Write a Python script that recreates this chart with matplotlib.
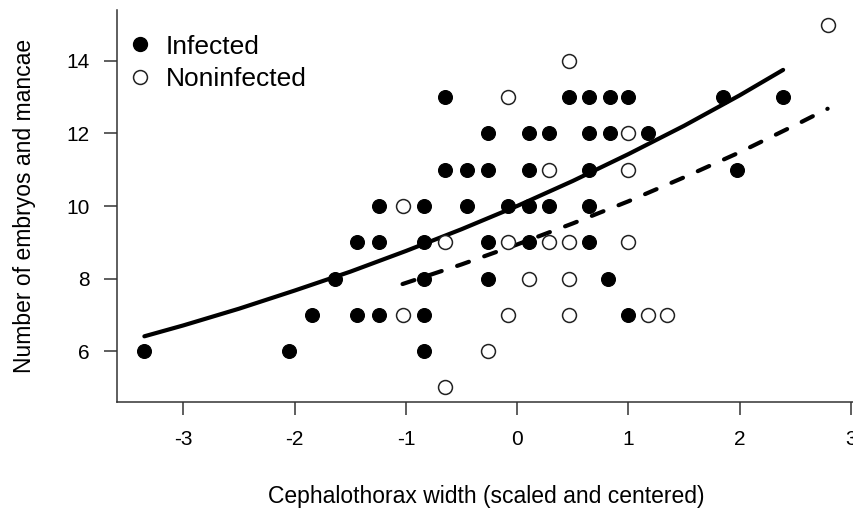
import matplotlib
matplotlib.use('Agg')
import matplotlib.pyplot as plt

plt.rcParams['font.family'] = ['Liberation Sans', 'DejaVu Sans']

# ---------- data (x = scaled width, y = count)
inf_x = [2.39, 1.85, 1.0, 0.83, 0.65, 0.47, -0.65,
         1.18, 0.83, 0.65, 0.29, 0.11, -0.26,
         1.98, 0.65, 0.11, -0.26, -0.45, -0.65,
         0.65, 0.29, 0.11, -0.08, -0.45, -0.84, -1.24,
         0.65, 0.11, -0.26, -0.84, -1.24, -1.44,
         0.82, -0.26, -0.84, -1.64,
         1.0, -0.84, -1.24, -1.44, -1.84,
         -0.84, -2.05, -3.35]
inf_y = [13]*7 + [12]*6 + [11]*6 + [10]*7 + [9]*6 + [8]*4 + [7]*5 + [6]*3

non_x = [2.79, 0.47, -0.08, 1.0,
         1.0, 0.29,
         -1.03,
         1.0, 0.47, 0.29, -0.08, -0.65,
         0.47, 0.11,
         1.35, 1.18, 0.47, -0.08, -1.03,
         -0.26, -0.65]
non_y = [15, 14, 13, 12] + [11]*2 + [10] + [9]*5 + [8]*2 + [7]*5 + [6, 5]

# fitted curves, points
fit_inf_x = [-3.35, -3.0, -2.5, -2.0, -1.5, -1.0, -0.5, 0.0, 0.5, 1.0, 1.5, 2.0, 2.39]
fit_inf_y = [6.41, 6.71, 7.17, 7.67, 8.19, 8.76, 9.36, 10.0, 10.69, 11.43, 12.21, 13.05, 13.75]
fit_non_x = [-1.03, -0.5, 0.0, 0.5, 1.0, 1.5, 2.0, 2.5, 2.79]
fit_non_y = [7.85, 8.39, 8.94, 9.52, 10.13, 10.79, 11.48, 12.23, 12.68]

labels = ['Infected', 'Noninfected']

fig = plt.figure(figsize=(8.54, 5.08), dpi=100)
ax = fig.add_axes([117/854, 106/508, 738/854, 392/508])

ax.plot(fit_inf_x, fit_inf_y, color='black', lw=3, solid_capstyle='round',
        solid_joinstyle='round', zorder=2)
ax.plot(fit_non_x, fit_non_y, color='black', lw=3, ls=(0, (3, 3.9)),
        dash_capstyle='round', zorder=2)
ax.scatter(inf_x, inf_y, s=100, c='black', edgecolors='black', linewidths=0.8, zorder=3)
ax.scatter(non_x, non_y, s=100, facecolors='white', edgecolors='#222222', linewidths=1.1, zorder=3)

ax.set_xlim(-3.596, 3.036)
ax.set_ylim(4.6, 15.4)
ax.set_xticks([-3, -2, -1, 0, 1, 2, 3])
ax.set_yticks([6, 8, 10, 12, 14])
ax.set_xticklabels(['-3', '-2', '-1', '0', '1', '2', '3'])
for s in ['top', 'right']:
    ax.spines[s].set_visible(False)
for s in ['left', 'bottom']:
    ax.spines[s].set_linewidth(1.1)
    ax.spines[s].set_color('#333333')
ax.tick_params(length=9.5, width=1.1, color='#333333', labelsize=15, pad=10)
ax.tick_params(axis='x', pad=11)

ax.set_xlabel('Cephalothorax width (scaled and centered)', fontsize=16.5, va='center')
ax.xaxis.set_label_coords(0.5, -0.242)
ax.set_ylabel('Number of embryos and mancae', fontsize=16.5, va='center')
ax.yaxis.set_label_coords(-0.1247, 0.5)

# legend drawn by hand in axes coordinates
ax.scatter([0.0312], [0.913], s=100, c='black', transform=ax.transAxes, clip_on=False)
ax.scatter([0.0312], [0.829], s=100, facecolors='white', edgecolors='#222222',
           linewidths=1.1, transform=ax.transAxes, clip_on=False)
ax.text(0.0664, 0.889, labels[0], fontsize=19, transform=ax.transAxes, va='baseline')
ax.text(0.0664, 0.805, labels[1], fontsize=19, transform=ax.transAxes, va='baseline')

fig.savefig('out.png', dpi=100)
